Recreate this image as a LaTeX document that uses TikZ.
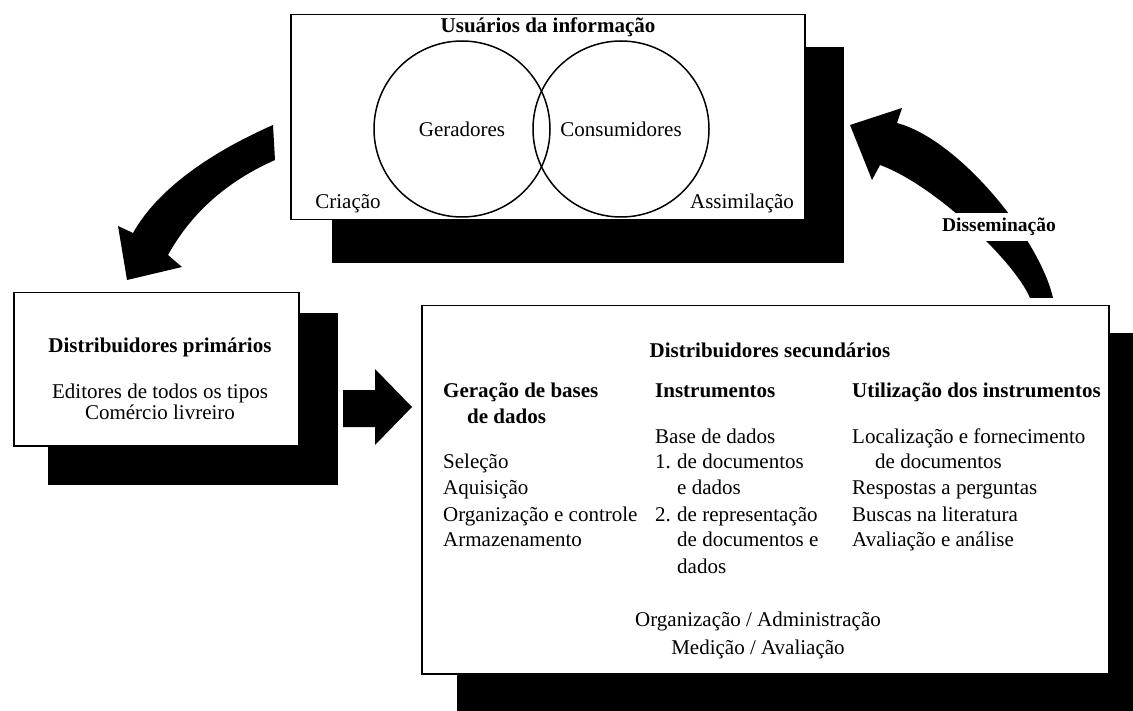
\documentclass[tikz,border=0pt]{standalone}
\usepackage{fontspec}
\setmainfont{Liberation Serif}
\begin{document}
\begin{tikzpicture}[x=1pt,y=-1pt,
  txt/.style={font=\fontsize{21}{25}\selectfont, inner sep=0pt},
  btxt/.style={font=\fontsize{21}{25}\selectfont\bfseries, inner sep=0pt},
  col/.style={txt, anchor=base west},
  bcol/.style={btxt, anchor=base west},
  frame/.style={draw=black, line width=1.5pt, fill=white, anchor=north west, inner sep=0pt},
  ring/.style={draw=black, line width=1.5pt, circle, minimum size=176pt, inner sep=0pt,
    font=\fontsize{21}{25}\selectfont},
  shade/.style={fill=black}]
\useasboundingbox (0,0) rectangle (1133,711);
\fill[white] (0,0) rectangle (1133,711);

% ---- shadows
\fill[shade] (332,47) rectangle (844,263);
\fill[shade] (48,313) rectangle (338,485);
\fill[shade] (457,333) rectangle (1133,711);

% ---- boxes
\node[frame, minimum width=514pt, minimum height=205pt] (top) at (290,14) {};
\node[frame, minimum width=285pt, minimum height=153pt] (prim) at (13,292) {};
\node[frame, minimum width=687pt, minimum height=368pt] (sec) at (421,305) {};

% ---- top box content
\node[ring] (gen) at (462,129) {Geradores};
\node[ring] (cons) at (621,129) {Consumidores};
\node[btxt, anchor=base] (usu) at (548,33) {Usuários da informação};
\node[txt, anchor=base] (cria) at (348,209) {Criação};
\node[txt, anchor=base] (assim) at (742,209) {Assimilação};

% ---- primary distributors
\node[btxt, anchor=base] (ptitle) at (160,353) {Distribuidores primários};
\node[txt, anchor=base] (ped) at (160,399) {Editores de todos os tipos};
\node[txt, anchor=base] (pcom) at (160,419) {Comércio livreiro};

% ---- secondary distributors
\node[btxt, anchor=base] (stitle) at (770,358) {Distribuidores secundários};

\node[bcol] (c1h) at (443,398) {Geração de bases};
\node[bcol] (c1h2) at (467,424) {de dados};
\node[col] (c1a) at (443,468) {Seleção};
\node[col] (c1b) at (443,494) {Aquisição};
\node[col] (c1c) at (443,521) {Organização e controle};
\node[col] (c1d) at (443,546) {Armazenamento};

\node[bcol] (c2h) at (655,398) {Instrumentos};
\node[col] (c2a) at (655,443) {Base de dados};
\node[col] (c2n1) at (655,468) {1.};
\node[col] (c2b) at (677,468) {de documentos};
\node[col] (c2c) at (677,494) {e dados};
\node[col] (c2n2) at (655,521) {2.};
\node[col] (c2d) at (677,521) {de representação};
\node[col] (c2e) at (677,546) {de documentos e};
\node[col] (c2f) at (677,573) {dados};

\node[bcol] (c3h) at (852,398) {Utilização dos instrumentos};
\node[col] (c3a) at (852,443) {Localização e fornecimento};
\node[col] (c3b) at (875,468) {de documentos};
\node[col] (c3c) at (852,494) {Respostas a perguntas};
\node[col] (c3d) at (852,521) {Buscas na literatura};
\node[col] (c3e) at (852,546) {Avaliação e análise};

\node[txt, anchor=base] (org) at (758,626) {Organização / Administração};
\node[txt, anchor=base] (med) at (758,654) {Medição / Avaliação};

% ---- block arrows
% top box -> primary distributors
\fill (273,125) .. controls (223,147) and (161,183) .. (133,233)
  -- (118,226) -- (127,280) -- (182,267) -- (168,255)
  .. controls (193,210) and (230,180) .. (275,160) -- cycle;
% primary -> secondary
\fill (343,390) -- (375,390) -- (375,369) -- (412,407) -- (375,445)
  -- (375,427) -- (343,427) -- cycle;
% secondary -> top box
\fill (1030,298) .. controls (1015,262) and (935,185) .. (880,165)
  -- (872,180) -- (850,125) -- (902,108) -- (897,123)
  .. controls (960,140) and (1040,240) .. (1053,298) -- cycle;
\node[btxt, font=\fontsize{19.5}{23}\selectfont\bfseries, fill=white, inner sep=5pt] (diss) at (999,227) {Disseminação};
\end{tikzpicture}
\end{document}
